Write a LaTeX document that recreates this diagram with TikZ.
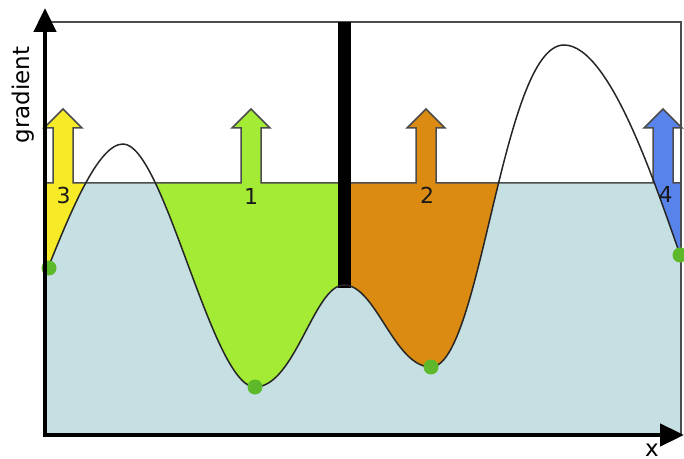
\documentclass[tikz,border=0pt]{standalone}
\usepackage{fontspec}
\setmainfont{DejaVu Sans}
\usetikzlibrary{arrows.meta}
\definecolor{poolblue}{HTML}{C5DFE2}
\definecolor{basinyellow}{HTML}{F6EB26}
\definecolor{basingreen}{HTML}{A3EB35}
\definecolor{basinorange}{HTML}{DB8A12}
\definecolor{basinblue}{HTML}{5783EB}
\definecolor{seedgreen}{HTML}{5DB929}
\tikzset{
  axis/.style={line width=2.3pt, -{Triangle[length=12pt, width=11pt]}},
  frame/.style={draw=black!70, line width=0.7pt},
  levelline/.style={draw=black!70, line width=0.75pt},
  terrain/.style={draw=black!85, line width=0.75pt},
  dam/.style={fill=black},
  seed/.style={circle, fill=seedgreen, inner sep=0pt, minimum size=7.5pt},
  basinlabel/.style={font=\fontsize{11}{12}\selectfont, text=black!90},
  axislabel/.style={font=\fontsize{11.5}{13}\selectfont},
}
% surface profile and block arrow bump on the level line
\newcommand{\terrainto}{.. controls (70,213) and (98,144) .. (123,144)
  .. controls (164,144) and (212,387) .. (255,387)
  .. controls (295,387) and (314,285) .. (344,285)
  .. controls (376,285) and (394,367) .. (431,367)
  .. controls (481,367) and (502,45) .. (564,45)
  .. controls (612,45) and (660,200) .. (681,257)}
\newcommand{\bump}[1]{-- ({#1-10},183) -- ({#1-10},128) -- ({#1-19},128) -- (#1,109)
  -- ({#1+19},128) -- ({#1+10},128) -- ({#1+10},183)}
\begin{document}
\begin{tikzpicture}[x=0.5pt, y=-0.5pt]
  \useasboundingbox (0,0) rectangle (684,459);

  % basins below the flood level
  \fill[basinyellow] (46,183) rectangle (123,435);
  \fill[basingreen] (123,183) rectangle (344,435);
  \fill[basinorange] (344,183) rectangle (564,435);
  \fill[basinblue] (564,183) rectangle (681,435);
  \begin{scope}
    \clip (46,183) rectangle (681,435);
    \fill[poolblue] (46,435) -- (46,273) \terrainto -- (681,435) -- cycle;
  \end{scope}

  % rising arrows
  \foreach \cx/\col in {63/basinyellow, 251/basingreen, 426/basinorange, 663/basinblue}
    \fill[\col] (\cx,183) \bump{\cx} -- cycle;
  \draw[levelline] (46,183) \bump{63} \bump{251} \bump{426} \bump{663} -- (681,183);

  % frame, dam and surface
  \draw[frame] (46,22) -- (681,22) -- (681,435);
  \fill[dam] (338,22) rectangle (351,288);
  \draw[terrain] (46,273) \terrainto;

  % minima
  \node[seed] (s3) at (49,268) {};
  \node[seed] (s1) at (255,387) {};
  \node[seed] (s2) at (431,367) {};
  \node[seed] (s4) at (680,255) {};

  % axes
  \draw[axis] (45,437) -- (45,8);
  \draw[axis] (43,435) -- (684,435);
  \node[axislabel, rotate=90] (ylab) at (23,95) {gradient};
  \node[axislabel] (xlab) at (652,450) {x};

  % basin numbers
  \node[basinlabel] (lab3) at (63.5,195) {3};
  \node[basinlabel] (lab1) at (251,196) {1};
  \node[basinlabel] (lab2) at (427,195) {2};
  \node[basinlabel] (lab4) at (665.5,194) {4};
\end{tikzpicture}
\end{document}
